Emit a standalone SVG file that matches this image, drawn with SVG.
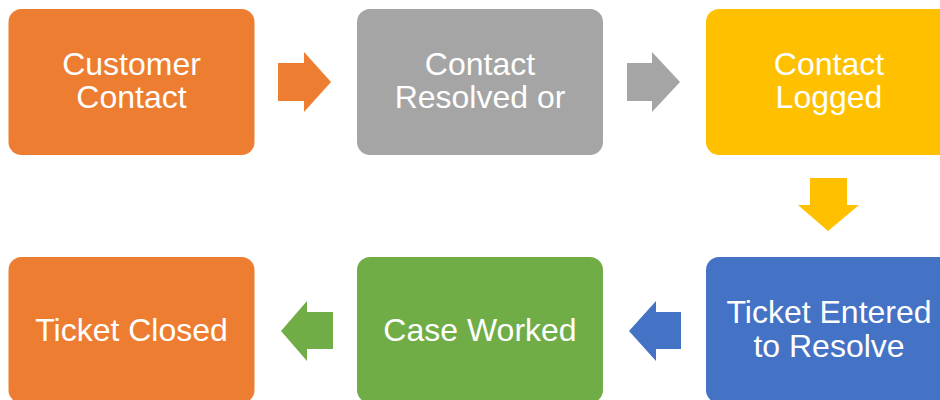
<svg xmlns="http://www.w3.org/2000/svg" width="940" height="400" viewBox="0 0 940 400">
<style>
.t{font-family:"Liberation Sans",Arial,sans-serif;font-size:32px;fill:#fff;text-anchor:middle}
.or{fill:#ED7D31}.gr{fill:#A5A5A5}.ye{fill:#FFC000}.bl{fill:#4472C4}.gn{fill:#70AD47}
</style>
<rect width="940" height="400" fill="#fff"/>
<g id="n1"><rect class="or" x="8.5" y="9" width="246" height="146" rx="13"/><text class="t" x="131.5" y="75">Customer</text><text class="t" x="131.5" y="108">Contact</text></g>
<g id="n2"><rect class="gr" x="357" y="9" width="246" height="146" rx="13"/><text class="t" x="480" y="75">Contact</text><text class="t" x="480" y="108">Resolved or</text></g>
<g id="n3"><rect class="ye" x="706" y="9" width="246" height="146" rx="13"/><text class="t" x="829" y="75">Contact</text><text class="t" x="829" y="108">Logged</text></g>
<g id="n4"><rect class="or" x="8.5" y="257" width="246" height="146" rx="13"/><text class="t" x="131.5" y="341">Ticket Closed</text></g>
<g id="n5"><rect class="gn" x="357" y="257" width="246" height="146" rx="13"/><text class="t" x="480" y="341">Case Worked</text></g>
<g id="n6"><rect class="bl" x="706" y="257" width="246" height="146" rx="13"/><text class="t" x="829" y="323">Ticket Entered</text><text class="t" x="829" y="357">to Resolve</text></g>
<g id="connectors">
<polygon class="or" points="278,63 304,63 304,52 331,82 304,112 304,101 278,101"/>
<polygon class="gr" points="627,63 652,63 652,52 680,82 652,112 652,101 627,101"/>
<polygon class="ye" points="810,178 847,178 847,205 859,205 828,231 798,205 810,205"/>
<polygon class="bl" points="681,312 656,312 656,301 629,331 656,361 656,349 681,349"/>
<polygon class="gn" points="333,312 307,312 307,301 281,331 307,361 307,349 333,349"/>
</g>
</svg>
